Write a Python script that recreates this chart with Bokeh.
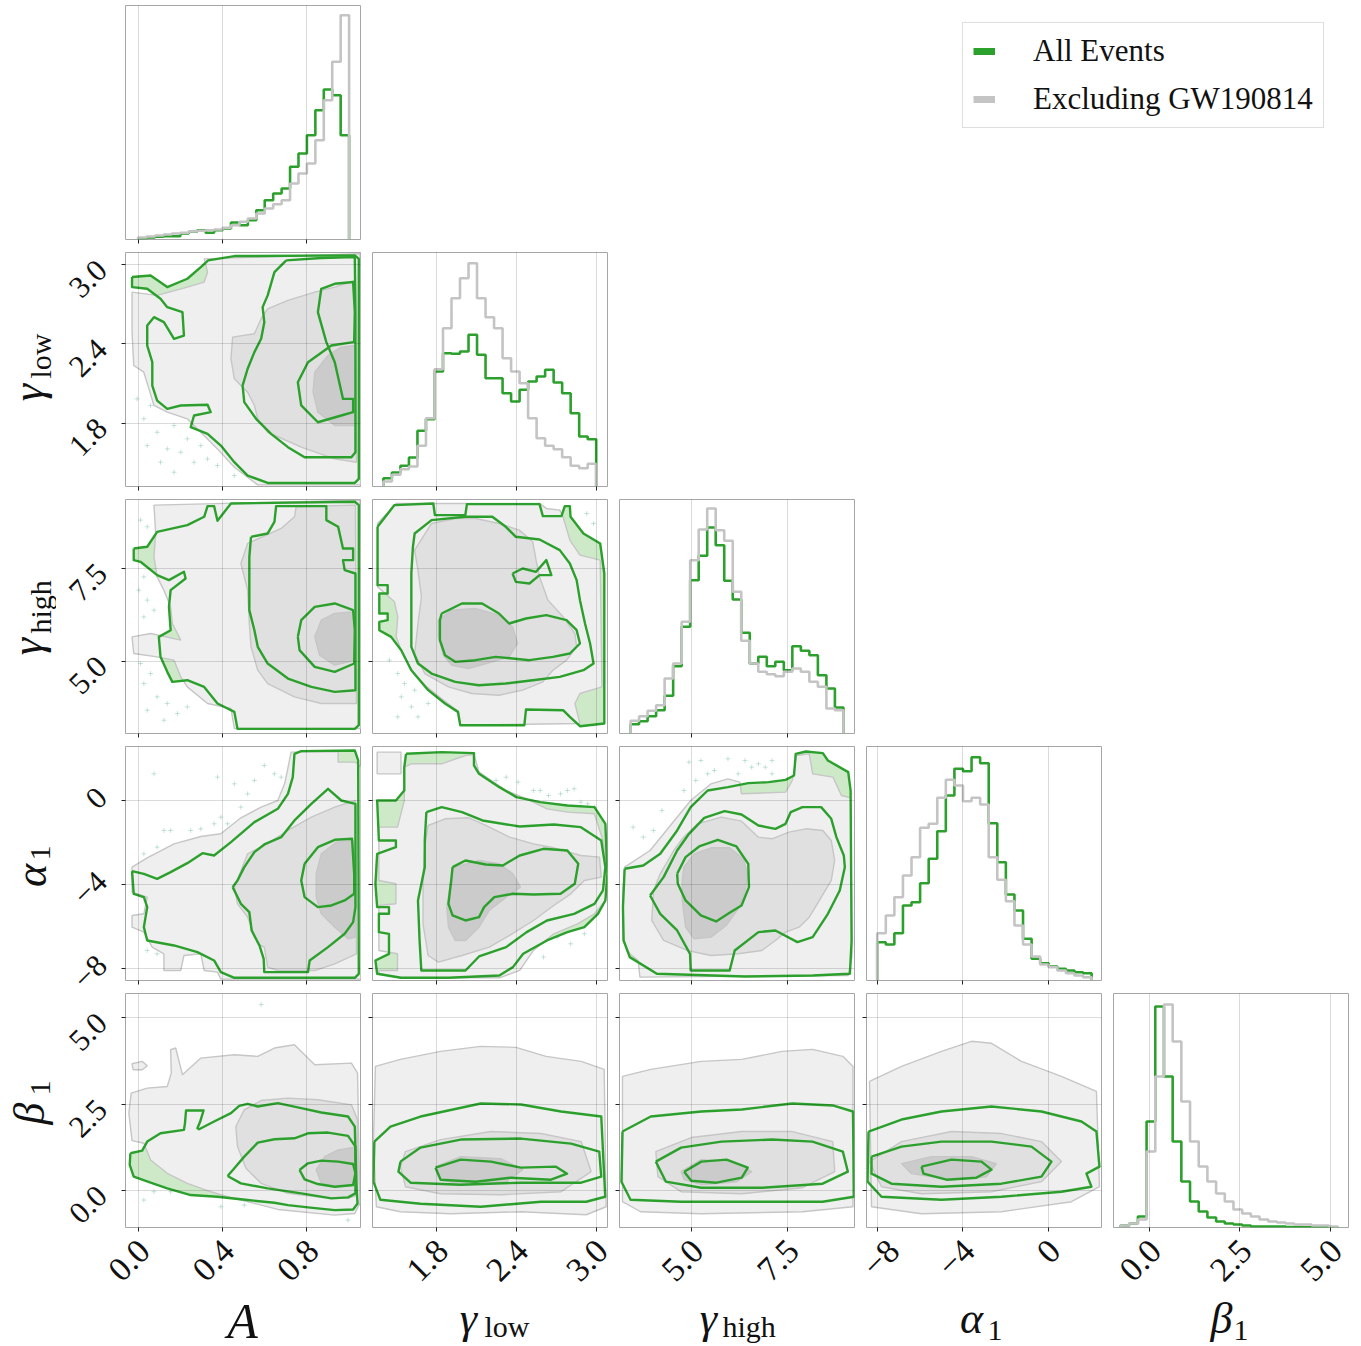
import numpy as np
from math import pi
from bokeh.plotting import figure
from bokeh.models import Range1d, FixedTicker, Legend, LegendItem, Spacer, LinearAxis
from bokeh.core.properties import value
from bokeh.layouts import row, column
from bokeh.embed import file_html
from bokeh.resources import INLINE

# ---------------------------------------------------------------- data
PARAMS = ["A", "glow", "ghigh", "alpha1", "beta1"]

X_RANGE = {"A": (-0.060, 1.054), "glow": (1.318, 3.085), "ghigh": (3.11, 9.26),
           "alpha1": (-8.50, 2.46), "beta1": (-0.994, 5.497)}
Y_RANGE = {"glow": (1.320, 3.093), "ghigh": (3.05, 9.36),
           "alpha1": (-8.59, 2.576), "beta1": (-1.065, 5.708)}
TICKS = {"A": [0.0, 0.4, 0.8], "glow": [1.8, 2.4, 3.0], "ghigh": [5.0, 7.5],
         "alpha1": [-8, -4, 0], "beta1": [0.0, 2.5, 5.0]}
TICK_TEXT = {"A": ["0.0", "0.4", "0.8"], "glow": ["1.8", "2.4", "3.0"], "ghigh": ["5.0", "7.5"],
             "alpha1": ["−8", "−4", "0"], "beta1": ["0.0", "2.5", "5.0"]}

# 1-D marginal histograms (25 bins between the limits, relative density)
HIST_LIMITS = {"A": (0.0, 1.0), "glow": (1.4, 3.0), "ghigh": (3.4, 8.97),
               "alpha1": (-8.0, 2.0), "beta1": (-0.8, 5.2)}
hist_A_all = [1.0, 2.0, 2.7, 3.3, 3.3, 6.0, 7.7, 9.3, 6.7, 9.3, 11.0, 17.0, 14.3, 19.3, 29.3,
              39.3, 46.0, 51.0, 72.7, 86.0, 104.3, 129.3, 150.0, 144.3, 104.3]
hist_A_ex = [2.0, 3.0, 4.0, 5.0, 6.0, 6.7, 8.0, 8.7, 9.3, 10.0, 11.7, 14.3, 17.7, 21.0, 26.0,
             31.0, 35.3, 39.3, 56.0, 66.0, 76.0, 99.3, 139.3, 177.7, 224.3]
hist_glow_all = [8.3, 14.0, 20.7, 29.0, 55.7, 67.3, 115.0, 133.3, 132.7, 135.0, 151.7, 131.7, 108.3,
                 108.3, 93.3, 85.0, 96.7, 105.0, 110.0, 116.7, 104.0, 93.3, 73.3, 50.0, 47.3]
hist_glow_ex = [5.0, 11.7, 17.3, 20.0, 40.7, 68.3, 117.3, 158.3, 188.3, 208.3, 223.3, 188.3, 169.3,
                158.3, 128.3, 115.0, 103.3, 68.3, 48.3, 40.7, 37.3, 29.3, 20.7, 18.3, 22.7]
hist_ghigh_all = [9.3, 12.3, 17.3, 23.3, 37.7, 67.3, 106.7, 153.3, 177.7, 206.0, 188.3, 152.7, 134.0,
                  100.7, 70.0, 76.7, 67.3, 71.7, 63.3, 87.3, 82.7, 78.3, 58.3, 45.0, 26.0]
hist_ghigh_ex = [12.7, 17.3, 22.7, 28.3, 55.0, 70.0, 111.7, 173.3, 204.0, 225.0, 203.3, 192.7, 141.7,
                 92.7, 70.0, 61.7, 59.3, 57.3, 61.7, 65.0, 61.7, 51.7, 46.7, 25.0, 23.3]
hist_alpha_all = [38.3, 36.0, 47.3, 75.0, 78.3, 97.3, 121.7, 149.3, 185.0, 211.7, 209.3, 223.3, 217.3,
                  157.3, 118.3, 86.0, 70.0, 41.7, 21.7, 17.3, 14.0, 11.7, 10.0, 8.3, 7.3]
hist_alpha_ex = [47.3, 65.0, 83.3, 105.0, 123.3, 152.7, 156.7, 182.7, 200.7, 195.0, 179.3, 182.7, 176.0,
                 123.3, 100.7, 79.3, 55.0, 36.0, 24.0, 16.0, 13.3, 10.0, 7.3, 5.0, 3.3]
hist_beta_all = [2, 4, 11, 106, 221, 151, 86, 46, 26, 16, 10, 6, 4, 3, 2, 1, 1, 1, 1,
                 0.5, 0.5, 0.3, 0.3, 0.2, 0.2]
hist_beta_ex = [2, 4, 8, 76, 151, 223, 186, 126, 86, 61, 46, 34, 26, 18, 14, 11, 8, 6, 5,
                4, 3, 3, 2, 2, 1]

# 2-D credible contours, outer / middle / inner, as (x, y) vertices in data units
# --- A vs gamma_low
A_glow_all_1 = [(-0.029,2.907),(0.059,2.919),(0.138,2.831),(0.233,2.894),(0.297,2.982),(0.332,3.033),(0.456,3.066),(1.027,3.071),(1.046,3.045),(1.046,1.378),(1.027,1.347),(0.614,1.347),(0.519,1.403),(0.456,1.504),(0.392,1.630),(0.329,1.719),(0.249,1.769),(0.265,1.858),(0.344,1.883),(0.329,1.939),(0.202,1.934),(0.138,1.908),(0.090,1.971),(0.067,2.085),(0.067,2.262),(0.043,2.388),(0.043,2.540),(0.075,2.603),(0.122,2.565),(0.170,2.439),(0.217,2.464),(0.210,2.641),(0.138,2.679),(0.106,2.742),(0.043,2.818),(-0.029,2.831)]
A_glow_all_2 = [(0.702,3.033),(0.868,3.051),(1.027,3.058),(1.030,2.641),(1.030,1.580),(1.011,1.542),(0.789,1.542),(0.710,1.618),(0.630,1.719),(0.559,1.833),(0.503,1.959),(0.495,2.085),(0.519,2.212),(0.551,2.338),(0.583,2.439),(0.598,2.565),(0.590,2.679),(0.614,2.768),(0.646,2.944)]
A_glow_all_3 = [(1.019,2.414),(0.916,2.388),(0.805,2.262),(0.757,2.110),(0.773,1.934),(0.852,1.807),(0.963,1.858),(1.019,1.883),(1.019,1.984),(0.971,1.984),(0.932,2.262),(0.892,2.414),(0.852,2.641),(0.868,2.818),(0.932,2.856),(1.019,2.869),(1.027,2.641),(1.024,2.414)]
A_glow_ex_1 = [(-0.029,2.793),(0.090,2.768),(0.233,2.831),(0.313,2.869),(0.329,2.944),(0.313,3.045),(1.051,3.083),(1.056,1.332),(0.567,1.332),(0.456,1.466),(0.376,1.605),(0.297,1.731),(0.233,1.833),(0.138,1.883),(0.075,1.934),(0.051,2.060),(0.027,2.186),(-0.021,2.237),(-0.029,2.490)]
A_glow_ex_2 = [(0.448,2.452),(0.551,2.477),(0.583,2.591),(0.614,2.666),(0.710,2.730),(0.837,2.793),(0.932,2.831),(1.030,2.881),(1.035,1.504),(0.932,1.529),(0.773,1.618),(0.614,1.731),(0.567,1.833),(0.551,1.934),(0.519,2.035),(0.456,2.136),(0.440,2.287)]
A_glow_ex_3 = [(0.837,2.186),(0.900,2.313),(0.963,2.376),(1.030,2.388),(1.035,1.782),(0.932,1.782),(0.852,1.883),(0.829,2.035)]
A_glow_pts = [(0.027,1.833),(0.090,1.731),(0.043,1.630),(0.138,1.605),(0.170,1.782),(0.233,1.681),(0.297,1.630),(0.106,1.504),(0.329,1.529),(0.376,1.479),(0.456,1.403),(0.059,1.934),(0.202,1.580),(0.265,1.504),(0.170,1.428),(-0.005,1.984)]
# --- A vs gamma_high
A_ghigh_all_1 = [(-0.021,8.040),(0.043,8.085),(0.090,8.489),(0.233,8.669),(0.313,8.894),(0.329,9.182),(0.360,9.182),(0.376,8.786),(0.440,9.254),(1.027,9.299),(1.046,9.209),(1.046,3.273),(1.027,3.174),(0.471,3.174),(0.456,3.633),(0.376,3.858),(0.313,4.307),(0.233,4.487),(0.162,4.442),(0.138,4.712),(0.106,5.117),(0.098,5.656),(0.154,5.836),(0.146,6.466),(0.154,6.915),(0.225,7.230),(0.217,7.410),(0.146,7.185),(0.090,7.320),(0.011,7.680),(-0.021,7.725)]
A_ghigh_all_2 = [(0.535,8.354),(0.614,8.444),(0.646,8.759),(0.654,9.182),(0.892,9.182),(0.892,8.804),(0.948,8.624),(0.971,8.040),(1.019,8.040),(1.019,7.725),(0.971,7.725),(0.979,7.455),(1.030,7.365),(1.030,4.218),(0.932,4.173),(0.821,4.307),(0.710,4.532),(0.614,4.937),(0.567,5.387),(0.551,5.836),(0.527,6.376),(0.527,7.815)]
A_ghigh_all_3 = [(0.757,5.656),(0.773,6.106),(0.837,6.466),(0.932,6.556),(1.019,6.376),(1.027,5.836),(1.024,4.937),(0.932,4.712),(0.837,4.847),(0.765,5.297)]
A_ghigh_ex_1 = [(0.075,9.209),(1.051,9.344),(1.056,3.183),(0.456,3.183),(0.440,3.723),(0.329,3.858),(0.233,4.307),(0.202,4.577),(0.170,5.027),(0.090,5.117),(-0.021,5.207),(-0.029,5.656),(0.059,5.746),(0.202,5.567),(0.162,6.016),(0.154,6.466),(0.122,6.915),(0.090,7.275),(0.075,7.815),(0.083,8.444)]
A_ghigh_ex_2 = [(0.519,8.174),(0.678,8.579),(0.741,8.894),(0.749,9.164),(1.030,9.209),(1.035,3.858),(0.868,3.858),(0.741,4.038),(0.614,4.397),(0.567,4.757),(0.535,5.387),(0.527,6.016),(0.519,6.915),(0.487,7.635)]
A_ghigh_ex_3 = [(0.837,5.656),(0.868,6.106),(0.932,6.286),(1.019,6.331),(1.030,5.836),(1.030,5.027),(0.932,4.892),(0.860,5.162)]
A_ghigh_pts = [(0.011,8.804),(0.043,8.624),(0.027,7.275),(0.003,6.915),(0.043,6.646),(0.075,6.376),(0.027,6.196),(0.011,4.937),(0.059,4.667),(0.027,4.397),(0.090,4.038),(0.138,3.858),(0.043,3.678),(0.122,3.408),(0.186,3.588),(0.233,3.768)]
# --- gamma_low vs gamma_high
glow_ghigh_all_1 = [(1.356,8.624),(1.483,9.209),(1.775,9.254),(1.787,8.939),(2.016,8.939),(2.028,9.236),(2.574,9.236),(2.599,8.912),(2.739,8.912),(2.764,9.182),(2.802,9.182),(2.807,8.894),(2.904,8.444),(3.030,8.174),(3.061,7.365),(3.061,3.318),(2.878,3.246),(2.802,3.498),(2.751,3.678),(2.472,3.696),(2.460,3.273),(1.978,3.273),(1.960,3.633),(1.863,3.858),(1.737,4.218),(1.610,4.757),(1.534,5.297),(1.458,5.656),(1.369,5.836),(1.369,6.061),(1.432,6.106),(1.432,6.286),(1.369,6.286),(1.369,6.826),(1.432,6.826),(1.432,7.050),(1.356,7.050)]
glow_ghigh_all_2 = [(1.622,8.085),(1.635,8.444),(1.762,8.804),(2.016,8.894),(2.219,8.894),(2.320,8.624),(2.396,8.354),(2.574,8.282),(2.726,7.995),(2.802,7.635),(2.853,7.185),(2.878,6.646),(2.916,6.016),(2.954,5.477),(2.980,4.937),(2.904,4.757),(2.726,4.577),(2.523,4.487),(2.320,4.397),(2.117,4.352),(1.940,4.442),(1.762,4.667),(1.660,4.937),(1.610,5.387),(1.610,6.196),(1.610,7.365)]
glow_ghigh_all_2b = [(2.371,7.365),(2.447,7.500),(2.548,7.410),(2.625,7.725),(2.663,7.320),(2.574,7.320),(2.498,7.095),(2.396,7.140)]
glow_ghigh_all_3 = [(1.838,6.286),(1.990,6.556),(2.142,6.556),(2.269,6.286),(2.345,6.016),(2.472,6.151),(2.625,6.241),(2.777,6.106),(2.853,5.836),(2.878,5.477),(2.802,5.207),(2.675,5.117),(2.498,5.027),(2.371,5.072),(2.244,5.117),(2.092,5.027),(1.940,4.982),(1.863,5.162),(1.825,5.567),(1.825,6.106)]
glow_ghigh_ex_1 = [(1.356,8.714),(1.496,9.254),(2.574,9.254),(2.625,9.119),(2.726,9.074),(2.751,8.894),(2.802,8.264),(2.878,7.860),(3.030,7.725),(3.043,4.307),(2.878,4.128),(2.840,3.858),(2.878,3.318),(1.980,3.273),(1.967,3.633),(1.853,3.948),(1.726,4.307),(1.610,4.757),(1.534,5.297),(1.496,5.656),(1.508,6.196),(1.483,6.601),(1.356,7.005)]
glow_ghigh_ex_2 = [(1.635,7.995),(1.762,8.714),(1.940,8.849),(2.092,8.849),(2.269,8.714),(2.422,8.534),(2.523,8.219),(2.548,7.725),(2.574,7.275),(2.637,6.646),(2.751,6.196),(2.840,5.746),(2.853,5.387),(2.777,5.027),(2.675,4.757),(2.599,4.442),(2.447,4.218),(2.269,4.083),(2.066,4.128),(1.889,4.307),(1.711,4.667),(1.635,5.207),(1.660,6.016),(1.686,6.736),(1.660,7.455)]
glow_ghigh_ex_3 = [(1.813,6.106),(1.914,6.376),(2.092,6.421),(2.269,6.241),(2.371,5.926),(2.409,5.477),(2.345,5.117),(2.219,4.982),(2.041,4.802),(1.914,4.892),(1.851,5.162),(1.813,5.656)]
glow_ghigh_pts = [(1.445,5.027),(1.508,4.667),(1.559,4.397),(1.635,4.218),(1.686,4.577),(1.534,4.038),(1.610,3.768),(1.508,3.498),(1.737,3.858),(1.660,3.498),(2.929,8.984),(2.980,8.714),(2.954,3.678),(3.005,3.408)]
# --- A vs alpha_1
A_alpha_all_1 = [(-0.029,-3.372),(0.027,-3.499),(0.090,-3.738),(0.154,-3.419),(0.233,-2.990),(0.305,-2.513),(0.360,-2.624),(0.440,-1.988),(0.551,-1.034),(0.662,-0.398),(0.710,0.318),(0.733,1.113),(0.741,2.227),(0.773,2.354),(1.027,2.386),(1.043,1.909),(1.046,-8.270),(1.027,-8.461),(0.456,-8.461),(0.392,-8.191),(0.360,-7.634),(0.281,-7.237),(0.170,-6.918),(0.043,-6.680),(0.027,-6.044),(0.043,-5.089),(0.027,-4.612),(-0.021,-4.453)]
A_alpha_all_2 = [(0.448,-4.135),(0.487,-4.930),(0.527,-5.328),(0.538,-6.203),(0.575,-6.918),(0.595,-7.555),(0.598,-8.191),(0.805,-8.191),(0.813,-7.634),(0.900,-6.998),(0.979,-6.362),(1.019,-5.805),(1.030,-5.089),(1.030,-0.159),(0.963,0.000),(0.900,0.557),(0.821,-0.159),(0.741,-0.954),(0.678,-1.750),(0.598,-2.099),(0.551,-2.465),(0.503,-3.181),(0.471,-3.817)]
A_alpha_all_3 = [(0.789,-3.022),(0.852,-2.227),(0.932,-1.877),(1.014,-1.829),(1.024,-3.499),(1.024,-4.453),(0.979,-4.771),(0.916,-5.010),(0.852,-5.089),(0.789,-4.612),(0.773,-3.817)]
A_alpha_ex_1 = [(-0.029,-3.181),(0.043,-2.736),(0.170,-2.068),(0.297,-1.718),(0.392,-1.590),(0.487,-0.827),(0.583,-0.318),(0.662,0.000),(0.694,0.795),(0.706,1.352),(0.725,2.306),(0.948,2.338),(0.948,1.829),(1.030,1.829),(1.056,1.590),(1.056,-8.525),(0.392,-8.525),(0.376,-8.191),(0.313,-8.111),(0.297,-7.316),(0.217,-7.396),(0.202,-8.111),(0.122,-8.111),(0.122,-7.316),(0.067,-6.998),(0.027,-6.282),(-0.029,-6.044),(-0.029,-5.487),(0.027,-5.408),(0.043,-4.612),(-0.029,-4.374)]
A_alpha_ex_2 = [(0.456,-4.135),(0.519,-2.545),(0.598,-2.147),(0.710,-1.431),(0.821,-0.795),(0.932,-0.318),(1.030,0.000),(1.035,-7.316),(0.932,-7.793),(0.837,-8.111),(0.662,-8.111),(0.614,-7.952),(0.598,-6.998),(0.567,-6.839),(0.519,-5.567),(0.471,-4.930)]
A_alpha_ex_3 = [(0.868,-2.545),(0.940,-1.988),(1.019,-1.909),(1.030,-3.499),(1.030,-6.521),(0.995,-6.600),(0.932,-6.044),(0.868,-5.408),(0.844,-4.612),(0.844,-3.499)]
A_alpha_pts = [(0.075,1.272),(0.122,-1.431),(0.154,-1.431),(0.249,-1.431),(0.297,-1.352),(0.360,-1.113),(0.392,-0.795),(0.424,-1.113),(0.487,-0.318),(0.519,0.318),(0.551,0.954),(0.598,1.670),(0.646,1.272),(0.678,1.113),(0.456,0.795),(0.376,1.113),(0.027,-2.545),(0.090,-2.227),(0.059,-2.704),(0.043,-7.157),(0.090,-7.316)]
# --- gamma_low vs alpha_1
glow_alpha_all_1 = [(1.570,2.227),(1.838,2.306),(2.081,2.258),(2.081,1.670),(2.119,1.272),(2.272,0.636),(2.400,0.159),(2.579,-0.080),(2.783,-0.239),(2.987,-0.318),(3.069,-1.113),(3.084,-3.499),(3.069,-4.771),(3.013,-5.408),(2.911,-6.044),(2.783,-6.282),(2.630,-6.680),(2.451,-7.316),(2.374,-7.952),(2.272,-8.350),(1.889,-8.461),(1.532,-8.461),(1.353,-8.270),(1.340,-7.634),(1.442,-7.316),(1.442,-6.362),(1.366,-6.282),(1.366,-5.408),(1.442,-5.408),(1.442,-5.089),(1.353,-5.089),(1.340,-3.976),(1.353,-2.545),(1.494,-2.227),(1.494,-1.909),(1.366,-1.909),(1.353,0.000),(1.494,0.000),(1.557,0.477),(1.557,1.590)]
glow_alpha_all_2 = [(1.723,-0.557),(1.838,-0.318),(1.991,-0.557),(2.145,-0.954),(2.425,-1.241),(2.681,-1.145),(2.885,-1.272),(3.038,-1.909),(3.069,-3.181),(3.051,-4.294),(2.987,-4.930),(2.834,-5.408),(2.630,-5.726),(2.477,-6.282),(2.323,-6.998),(2.119,-7.443),(2.017,-8.111),(1.685,-8.111),(1.672,-6.680),(1.660,-4.771),(1.711,-3.181),(1.711,-1.909)]
glow_alpha_all_3 = [(1.920,-3.181),(2.017,-2.863),(2.170,-3.054),(2.298,-3.101),(2.425,-2.624),(2.604,-2.306),(2.783,-2.386),(2.865,-3.022),(2.839,-3.976),(2.732,-4.453),(2.528,-4.485),(2.374,-4.453),(2.234,-4.612),(2.157,-5.089),(2.119,-5.567),(2.017,-5.726),(1.920,-5.487),(1.889,-4.930),(1.910,-3.817)]
glow_alpha_ex_1 = [(1.557,1.590),(1.609,1.750),(1.838,1.750),(2.017,2.147),(2.081,2.195),(2.119,1.352),(2.323,0.477),(2.477,0.080),(2.630,-0.398),(2.783,-0.557),(2.987,-0.636),(3.051,-1.909),(3.089,-3.499),(3.069,-4.771),(2.987,-5.408),(2.860,-5.885),(2.681,-6.362),(2.528,-7.157),(2.425,-8.111),(2.272,-8.461),(1.532,-8.461),(1.366,-8.270),(1.366,-8.111),(1.506,-8.111),(1.506,-7.316),(1.366,-7.157),(1.366,-5.010),(1.494,-4.930),(1.494,-3.976),(1.366,-3.817),(1.366,-1.272),(1.506,-1.272),(1.557,0.000)]
glow_alpha_ex_1b = [(1.353,2.306),(1.532,2.306),(1.532,1.272),(1.353,1.272)]
glow_alpha_ex_2 = [(1.736,-1.193),(1.864,-0.875),(2.043,-0.827),(2.170,-1.193),(2.349,-1.750),(2.528,-2.068),(2.681,-2.258),(2.885,-2.624),(3.025,-2.704),(3.038,-3.658),(2.911,-3.817),(2.809,-4.453),(2.681,-5.010),(2.528,-5.726),(2.349,-6.441),(2.196,-6.998),(1.991,-7.396),(1.813,-7.714),(1.736,-7.396),(1.698,-5.885),(1.698,-3.817),(1.711,-2.227)]
glow_alpha_ex_3 = [(1.928,-3.181),(2.119,-2.863),(2.272,-3.022),(2.374,-3.499),(2.431,-4.135),(2.323,-4.612),(2.196,-5.249),(2.119,-6.044),(2.017,-6.680),(1.940,-6.680),(1.889,-6.044),(1.877,-5.089),(1.902,-3.976)]
glow_alpha_pts = [(1.506,1.670),(1.557,1.352),(2.094,1.431),(2.170,0.954),(2.247,0.954),(2.323,1.113),(2.413,0.875),(2.528,0.477),(2.579,0.477),(2.642,0.239),(2.732,0.318),(2.783,0.477),(2.834,0.557),(2.885,-0.080),(2.936,-0.159),(2.987,-0.318),(2.706,-6.521),(2.808,-6.839),(2.911,-6.362),(2.604,-7.475)]
# --- gamma_high vs alpha_1
ghigh_alpha_all_1 = [(3.245,-3.260),(3.732,-3.101),(4.176,-2.545),(4.619,-1.431),(4.973,-0.318),(5.417,0.477),(5.949,0.636),(6.480,0.827),(7.012,0.875),(7.456,0.986),(7.677,1.193),(7.722,2.227),(7.988,2.338),(8.431,2.258),(8.564,1.909),(9.096,1.352),(9.158,0.477),(9.184,-6.680),(9.140,-8.270),(8.165,-8.350),(6.392,-8.398),(4.087,-8.270),(3.378,-7.475),(3.218,-6.680),(3.200,-5.089)]
ghigh_alpha_all_2 = [(3.910,-4.533),(4.264,-3.658),(4.619,-2.386),(4.929,-1.590),(5.328,-0.827),(5.860,-0.509),(6.303,-0.668),(6.746,-1.193),(7.190,-1.352),(7.456,-1.113),(7.589,-0.557),(7.899,-0.318),(8.387,-0.318),(8.652,-0.875),(8.786,-1.750),(8.980,-2.624),(9.007,-3.181),(8.874,-4.294),(8.564,-5.408),(8.165,-6.521),(7.766,-6.759),(7.190,-6.203),(6.746,-6.282),(6.126,-7.157),(5.993,-8.111),(4.973,-8.111),(4.956,-7.316),(4.619,-6.203),(4.176,-5.408)]
ghigh_alpha_all_3 = [(4.619,-3.499),(4.840,-2.704),(5.195,-2.195),(5.683,-1.877),(6.170,-2.195),(6.480,-3.022),(6.498,-4.135),(6.303,-5.010),(5.949,-5.408),(5.638,-5.773),(5.239,-5.487),(4.840,-4.771),(4.636,-3.976)]
ghigh_alpha_ex_1 = [(3.245,-3.181),(3.910,-2.386),(4.441,-1.193),(4.973,0.000),(5.505,0.795),(5.949,1.034),(6.259,0.875),(6.303,0.318),(7.456,0.398),(7.633,0.954),(7.739,2.147),(8.076,2.227),(8.165,1.272),(8.697,1.113),(8.918,0.239),(9.158,0.127),(9.193,-7.475),(9.096,-8.350),(3.644,-8.429),(3.599,-7.634),(3.378,-7.316),(3.200,-6.680),(3.200,-4.294)]
ghigh_alpha_ex_2 = [(4.002,-4.294),(4.176,-3.499),(4.530,-2.386),(4.752,-1.829),(5.151,-1.113),(5.771,-0.795),(6.303,-0.986),(6.746,-1.750),(7.101,-1.829),(7.544,-1.511),(7.988,-1.352),(8.431,-1.431),(8.652,-1.909),(8.741,-2.863),(8.652,-3.817),(8.342,-4.771),(8.076,-5.567),(7.810,-6.044),(7.456,-6.282),(7.190,-6.680),(6.835,-7.157),(6.215,-7.316),(5.505,-7.396),(4.885,-7.157),(4.264,-6.680),(3.954,-5.726)]
ghigh_alpha_ex_3 = [(4.796,-3.181),(5.062,-2.545),(5.505,-2.258),(5.993,-2.258),(6.348,-2.783),(6.463,-3.499),(6.392,-4.374),(6.215,-5.169),(5.904,-5.964),(5.505,-6.521),(5.062,-6.600),(4.840,-6.044),(4.752,-4.771),(4.752,-3.817)]
ghigh_alpha_pts = [(3.466,-1.272),(3.732,-1.750),(3.998,-1.431),(4.220,-0.477),(4.796,0.477),(4.929,1.829),(5.106,0.954),(5.239,1.909),(5.417,1.272),(5.594,1.431),(5.949,1.988),(6.215,1.272),(6.392,1.909),(6.569,1.590),(6.746,1.750),(6.924,1.590),(7.101,1.909),(7.101,1.272)]
# --- A vs beta_1
A_beta_all_1 = [(-0.037,1.083),(0.019,1.161),(0.043,1.422),(0.106,1.663),(0.217,1.760),(0.222,1.954),(0.227,2.321),(0.310,2.321),(0.294,2.002),(0.281,1.809),(0.289,1.779),(0.360,2.002),(0.440,2.244),(0.479,2.456),(0.519,2.515),(0.567,2.437),(0.662,2.534),(0.773,2.389),(0.868,2.263),(0.995,2.147),(1.027,1.857),(1.035,0.116),(1.040,-0.368),(1.019,-0.542),(0.932,-0.561),(0.805,-0.484),(0.710,-0.416),(0.646,-0.348),(0.519,-0.271),(0.376,-0.174),(0.249,-0.126),(0.138,0.068),(0.059,0.232),(-0.021,0.406),(-0.040,0.745)]
A_beta_all_2 = [(0.424,0.426),(0.456,0.648),(0.503,0.986),(0.567,1.393),(0.646,1.489),(0.741,1.518),(0.805,1.663),(0.900,1.683),(0.995,1.586),(1.030,1.277),(1.030,-0.077),(0.995,-0.193),(0.916,-0.222),(0.773,-0.077),(0.614,0.068),(0.487,0.213)]
A_beta_all_3 = [(0.765,0.600),(0.805,0.793),(0.868,0.870),(0.948,0.841),(1.019,0.774),(1.030,0.503),(1.019,0.164),(0.932,0.116),(0.852,0.193),(0.789,0.329)]
A_beta_ex_1 = [(-0.033,2.824),(0.043,2.969),(0.138,3.017),(0.157,3.404),(0.154,4.081),(0.178,4.130),(0.210,3.356),(0.297,3.839),(0.456,3.936),(0.567,3.888),(0.646,4.130),(0.741,4.226),(0.837,3.646),(1.011,3.694),(1.040,3.404),(1.051,-0.368),(1.027,-0.658),(0.932,-0.706),(0.662,-0.542),(0.551,-0.368),(0.424,-0.174),(0.329,0.000),(0.233,0.213),(0.138,0.503),(0.059,0.890),(0.027,1.373),(-0.029,1.451),(-0.044,2.244)]
A_beta_ex_1b = [(-0.029,3.675),(0.019,3.743),(0.043,3.617),(0.019,3.501),(-0.024,3.501)]
A_beta_ex_2 = [(0.463,1.857),(0.503,2.340),(0.583,2.611),(0.710,2.679),(0.852,2.631),(1.011,2.485),(1.040,2.050),(1.040,-0.126),(0.995,-0.222),(0.868,-0.193),(0.710,-0.077),(0.583,0.213),(0.511,0.648),(0.471,1.277)]
A_beta_ex_3 = [(0.844,0.600),(0.884,0.986),(0.948,1.180),(1.027,1.257),(1.043,1.083),(1.040,0.164),(0.932,0.116),(0.868,0.232)]
A_beta_pts = [(0.027,-0.271),(0.075,-0.029),(0.154,-0.029),(0.392,-0.464),(0.503,-0.416),(0.995,-0.851),(0.583,5.387)]
# --- gamma_low vs beta_1
glow_beta_all_1 = [(1.332,1.422),(1.453,1.857),(1.679,2.147),(2.132,2.525),(2.434,2.496),(2.736,2.293),(3.038,2.147),(3.068,-0.174),(2.925,-0.319),(2.585,-0.319),(2.132,-0.464),(1.679,-0.377),(1.377,-0.261),(1.325,0.261)]
glow_beta_all_2 = [(1.528,0.842),(1.679,1.248),(1.981,1.480),(2.434,1.509),(2.811,1.364),(3.023,1.132),(3.038,0.406),(2.887,0.232),(2.434,0.232),(1.981,0.174),(1.604,0.232),(1.513,0.551)]
glow_beta_all_3 = [(1.792,0.667),(1.981,0.900),(2.208,0.842),(2.434,0.667),(2.698,0.696),(2.781,0.493),(2.660,0.319),(2.358,0.377),(2.094,0.261),(1.830,0.319)]
glow_beta_ex_1 = [(1.340,3.598),(1.528,3.801),(1.830,4.034),(2.132,4.179),(2.396,4.150),(2.623,3.889),(2.887,3.743),(3.060,3.511),(3.075,-0.464),(2.925,-0.696),(2.434,-0.609),(1.906,-0.667),(1.528,-0.609),(1.347,-0.464),(1.325,1.422)]
glow_beta_ex_2 = [(1.566,1.132),(1.830,1.480),(2.208,1.712),(2.585,1.654),(2.887,1.422),(2.962,0.551),(2.736,-0.029),(2.283,-0.116),(1.830,-0.087),(1.566,0.116),(1.528,0.696)]
glow_beta_ex_3 = [(1.792,0.696),(1.981,0.987),(2.283,0.929),(2.449,0.609),(2.321,0.261),(1.981,0.174),(1.830,0.319)]
# --- gamma_high vs beta_1
ghigh_beta_all_1 = [(3.188,1.712),(3.929,2.147),(5.251,2.293),(6.310,2.351),(7.632,2.525),(8.690,2.467),(9.220,2.293),(9.246,-0.174),(8.426,-0.319),(6.310,-0.319),(4.722,-0.319),(3.399,-0.261),(3.161,0.261)]
ghigh_beta_all_2 = [(4.061,0.842),(4.722,1.248),(5.780,1.422),(7.103,1.480),(8.161,1.422),(8.955,1.132),(9.087,0.551),(8.426,0.203),(6.839,0.087),(5.251,0.087),(4.325,0.261)]
ghigh_beta_all_3 = [(4.802,0.551),(5.251,0.842),(5.913,0.900),(6.468,0.667),(6.310,0.377),(5.648,0.232),(4.987,0.290)]
ghigh_beta_ex_1 = [(3.188,3.308),(3.929,3.511),(5.251,3.743),(6.310,3.801),(7.368,4.034),(8.161,4.092),(8.955,3.889),(9.220,3.598),(9.220,-0.464),(7.897,-0.609),(5.251,-0.667),(3.664,-0.609),(3.188,-0.319)]
ghigh_beta_ex_2 = [(4.061,1.132),(4.987,1.538),(6.310,1.712),(7.632,1.712),(8.690,1.422),(8.743,0.551),(7.897,0.087),(6.310,-0.087),(4.722,-0.029),(4.114,0.406)]
ghigh_beta_ex_3 = [(4.722,0.551),(5.251,0.900),(6.045,0.842),(6.574,0.551),(6.177,0.261),(5.251,0.174),(4.802,0.319)]
# --- alpha_1 vs beta_1
alpha_beta_all_1 = [(-8.406,1.712),(-6.867,2.060),(-5.002,2.293),(-2.671,2.438),(-0.340,2.293),(1.525,2.002),(2.224,1.712),(2.364,0.696),(1.758,0.493),(1.991,0.116),(0.592,-0.029),(-2.205,-0.174),(-5.002,-0.261),(-7.799,-0.174),(-8.452,0.261)]
alpha_beta_all_2 = [(-8.266,0.987),(-6.867,1.277),(-5.002,1.422),(-2.671,1.422),(-0.806,1.277),(0.126,0.842),(-0.340,0.406),(-2.205,0.203),(-5.002,0.116),(-7.333,0.203),(-8.266,0.493)]
alpha_beta_all_3 = [(-5.935,0.696),(-4.536,0.900),(-3.137,0.842),(-2.671,0.609),(-3.371,0.377),(-4.770,0.319),(-5.842,0.493)]
alpha_beta_ex_1 = [(-8.359,3.163),(-6.867,3.598),(-5.002,4.034),(-3.604,4.324),(-2.671,4.266),(-1.273,3.743),(0.592,3.308),(2.224,2.873),(2.364,0.116),(1.058,-0.319),(-2.205,-0.609),(-5.935,-0.667),(-8.266,-0.464)]
alpha_beta_ex_2 = [(-8.359,0.842),(-6.867,1.422),(-4.536,1.712),(-2.205,1.654),(-0.340,1.422),(0.592,0.842),(-0.340,0.261),(-2.671,-0.029),(-5.935,-0.087),(-7.799,0.116)]
alpha_beta_ex_3 = [(-6.867,0.784),(-5.468,0.987),(-3.604,0.987),(-2.438,0.784),(-2.904,0.406),(-4.536,0.319),(-6.401,0.493)]

# ---------------------------------------------------------------- assembly tables
HISTS = {"A": (hist_A_all, hist_A_ex), "glow": (hist_glow_all, hist_glow_ex),
         "ghigh": (hist_ghigh_all, hist_ghigh_ex), "alpha1": (hist_alpha_all, hist_alpha_ex),
         "beta1": (hist_beta_all, hist_beta_ex)}
PAIRS = {
    (1, 0): ([[A_glow_all_1], [A_glow_all_2], [A_glow_all_3]], [[A_glow_ex_1], [A_glow_ex_2], [A_glow_ex_3]], A_glow_pts),
    (2, 0): ([[A_ghigh_all_1], [A_ghigh_all_2], [A_ghigh_all_3]], [[A_ghigh_ex_1], [A_ghigh_ex_2], [A_ghigh_ex_3]], A_ghigh_pts),
    (2, 1): ([[glow_ghigh_all_1], [glow_ghigh_all_2, glow_ghigh_all_2b], [glow_ghigh_all_3]],
             [[glow_ghigh_ex_1], [glow_ghigh_ex_2], [glow_ghigh_ex_3]], glow_ghigh_pts),
    (3, 0): ([[A_alpha_all_1], [A_alpha_all_2], [A_alpha_all_3]], [[A_alpha_ex_1], [A_alpha_ex_2], [A_alpha_ex_3]], A_alpha_pts),
    (3, 1): ([[glow_alpha_all_1], [glow_alpha_all_2], [glow_alpha_all_3]],
             [[glow_alpha_ex_1, glow_alpha_ex_1b], [glow_alpha_ex_2], [glow_alpha_ex_3]], glow_alpha_pts),
    (3, 2): ([[ghigh_alpha_all_1], [ghigh_alpha_all_2], [ghigh_alpha_all_3]],
             [[ghigh_alpha_ex_1], [ghigh_alpha_ex_2], [ghigh_alpha_ex_3]], ghigh_alpha_pts),
    (4, 0): ([[A_beta_all_1], [A_beta_all_2], [A_beta_all_3]], [[A_beta_ex_1, A_beta_ex_1b], [A_beta_ex_2], [A_beta_ex_3]], A_beta_pts),
    (4, 1): ([[glow_beta_all_1], [glow_beta_all_2], [glow_beta_all_3]], [[glow_beta_ex_1], [glow_beta_ex_2], [glow_beta_ex_3]], []),
    (4, 2): ([[ghigh_beta_all_1], [ghigh_beta_all_2], [ghigh_beta_all_3]], [[ghigh_beta_ex_1], [ghigh_beta_ex_2], [ghigh_beta_ex_3]], []),
    (4, 3): ([[alpha_beta_all_1], [alpha_beta_all_2], [alpha_beta_all_3]], [[alpha_beta_ex_1], [alpha_beta_ex_2], [alpha_beta_ex_3]], []),
}

# ---------------------------------------------------------------- style / layout constants
GREEN = "#2ca02c"
POINT_COLOR = "#4aa88a"
LIGHT_GREEN = "#cde9c8"
GRAY_HIST = "#c4c4c4"
GRAY_LINE = "#c6c6c6"
GRAY_FILLS = ["#efefef", "#e0e0e0", "#cbcbcb"]
FONT = "Liberation Serif"
X_TICK_SIZE = "34px"
Y_TICK_SIZE = "31px"
FW, FH = 235, 234
LEFT_PAD = 56          # width of the strip holding the rotated y labels
BOTTOM_BORDER = 68     # bottom border of the last row (rotated x tick labels)
X_LABEL_SHIFT = 6      # px, rotated x tick labels sit a little right of the tick
Y_LABEL_SHIFT = {1: 0, 2: 0, 3: 8, 4: 0}
ROW_TOP = {0: 5, 1: 7, 2: 7, 3: 7, 4: 0}
ROW_BOTTOM = {0: 6, 1: 6, 2: 6, 3: 13, 4: BOTTOM_BORDER}

# axis-label pieces (centre positions): (x, y, text, size, italic, align)
BOTTOM_LABELS = [(242, 25.5, "A", "50px", True, "center"),
                 (468, 28, "γ", "44px", True, "center"), (484, 20, "low", "30px", False, "left"),
                 (708, 28, "γ", "44px", True, "center"), (722, 20, "high", "30px", False, "left"),
                 (971, 28, "α", "44px", True, "center"), (987, 16, "1", "30px", False, "left"),
                 (1221, 28, "β", "44px", True, "center"), (1233, 16, "1", "30px", False, "left")]
LEFT_LABELS = {1: [(28, 94, "γ", "44px", True, "center"), (40, 108, "low", "30px", False, "left")],
               2: [(27, 87, "γ", "44px", True, "center"), (40, 100, "high", "30px", False, "left")],
               3: [(31, 105, "α", "44px", True, "center"), (40, 120, "1", "30px", False, "left")],
               4: [(29, 114, "β", "44px", True, "center"), (40, 132, "1", "30px", False, "left")]}


def split(poly, close=False):
    xs = [pt[0] for pt in poly]
    ys = [pt[1] for pt in poly]
    if close:
        xs.append(xs[0]); ys.append(ys[0])
    return xs, ys


def step_outline(lo, hi, heights):
    edges = np.linspace(lo, hi, len(heights) + 1)
    xs, ys = [edges[0]], [0.0]
    for i, h in enumerate(heights):
        xs += [edges[i], edges[i + 1]]
        ys += [h, h]
    xs.append(edges[-1]); ys.append(0.0)
    return xs, ys


def base_axis_style(ax):
    ax.axis_line_color = None
    ax.major_tick_line_color = "#222222"
    ax.major_tick_out = 4
    ax.major_tick_in = 0
    ax.minor_tick_line_color = None
    ax.major_label_text_font = FONT
    ax.major_label_text_color = "#111111"
    ax.major_label_text_font_size = "1px"
    ax.major_label_standoff = 0


def label_axis(ticks, texts, range_name, standoff, size):
    return LinearAxis(x_range_name=range_name if range_name.startswith("x") else "default",
                      y_range_name=range_name if range_name.startswith("y") else "default",
                      ticker=FixedTicker(ticks=ticks),
                      major_label_overrides={t: s for t, s in zip(ticks, texts)},
                      major_tick_out=0, major_tick_in=0, axis_line_color=None,
                      minor_tick_line_color=None, major_tick_line_color=None,
                      major_label_orientation=pi / 4, major_label_standoff=standoff,
                      major_label_text_font=FONT, major_label_text_font_size=size,
                      major_label_text_color="#111111")


def make_panel(r, c):
    xp = PARAMS[c]
    is_hist = (r == c)
    yr = Range1d(0, FH) if is_hist else Range1d(*Y_RANGE[PARAMS[r]])
    p = figure(frame_width=FW, frame_height=FH,
               min_border_left=(125 if r == 0 else 125 - LEFT_PAD) if c == 0 else 6,
               min_border_right=6,
               min_border_top=ROW_TOP[r], min_border_bottom=ROW_BOTTOM[r],
               x_range=Range1d(*X_RANGE[xp]), y_range=yr,
               toolbar_location=None, output_backend="svg")
    p.outline_line_color = "#a6a6a6"
    p.outline_line_width = 1
    p.background_fill_color = "white"
    p.border_fill_color = "white"

    p.xaxis.ticker = FixedTicker(ticks=TICKS[xp])
    p.xgrid.ticker = FixedTicker(ticks=TICKS[xp])
    p.xaxis.major_label_overrides = {t: "" for t in TICKS[xp]}
    for ax in p.axis:
        base_axis_style(ax)
    if is_hist:
        p.yaxis.visible = False
        p.ygrid.visible = False
    else:
        yp = PARAMS[r]
        p.yaxis.ticker = FixedTicker(ticks=TICKS[yp])
        p.ygrid.ticker = FixedTicker(ticks=TICKS[yp])
        p.yaxis.major_label_overrides = {t: "" for t in TICKS[yp]}
        if c == 0:
            lo, hi = Y_RANGE[yp]
            d = Y_LABEL_SHIFT[r] * (hi - lo) / FH
            p.extra_y_ranges = {"ylbl": Range1d(lo - d, hi - d)}
            p.add_layout(label_axis(TICKS[yp], TICK_TEXT[yp], "ylbl", 20, Y_TICK_SIZE), "left")
    if r == 4:
        lo, hi = X_RANGE[xp]
        d = X_LABEL_SHIFT * (hi - lo) / FW
        p.extra_x_ranges = {"xlbl": Range1d(lo - d, hi - d)}
        p.add_layout(label_axis(TICKS[xp], TICK_TEXT[xp], "xlbl", 14, X_TICK_SIZE), "below")
    for g in (p.xgrid, p.ygrid):
        g.grid_line_color = "#000000"
        g.grid_line_alpha = 0.14
        g.grid_line_width = 1
        g.level = "guide"

    if is_hist:
        lo, hi = HIST_LIMITS[xp]
        h_all, h_ex = HISTS[xp]
        xs, ys = step_outline(lo, hi, h_all)
        p.line(xs, ys, line_color=GREEN, line_width=2.6)
        xs, ys = step_outline(lo, hi, h_ex)
        p.line(xs, ys, line_color=GRAY_HIST, line_width=2.6)
    else:
        all_lv, ex_lv, pts = PAIRS[(r, c)]
        if pts:
            p.scatter([q[0] for q in pts], [q[1] for q in pts], marker="cross", size=5,
                      line_color=POINT_COLOR, line_alpha=0.3, line_width=1)
        polys = [split(pl) for pl in all_lv[0]]
        p.patches([a for a, b in polys], [b for a, b in polys], fill_color=LIGHT_GREEN, line_color=None)
        for lv, col in zip(ex_lv, GRAY_FILLS):
            polys = [split(pl) for pl in lv]
            p.patches([a for a, b in polys], [b for a, b in polys], fill_color=col,
                      line_color=GRAY_LINE, line_width=1.4)
        for lv in all_lv:
            polys = [split(pl, close=True) for pl in lv]
            p.multi_line([a for a, b in polys], [b for a, b in polys], line_color=GREEN,
                         line_width=2.4, line_join="round")
    return p


def text_strip(width, height, items, angle, top, bottom):
    f = figure(frame_width=width, frame_height=height, min_border_left=0, min_border_right=0,
               min_border_top=top, min_border_bottom=bottom,
               x_range=Range1d(0, width), y_range=Range1d(0, height),
               x_axis_location=None, y_axis_location=None,
               toolbar_location=None, output_backend="svg")
    f.outline_line_color = None
    f.xgrid.visible = False
    f.ygrid.visible = False
    for (x, y, t, size, italic, align) in items:
        f.text(x=[x], y=[y], text=[t], angle=angle, text_font=value(FONT),
               text_font_size=value(size), text_font_style="italic" if italic else "normal",
               text_align=align, text_baseline="middle", text_color="#111111")
    return f


rows = []
for r in range(5):
    figs = [make_panel(r, c) for c in range(r + 1)]
    if r == 0:
        lf = figure(frame_width=400, frame_height=FH, min_border_left=0, min_border_right=0,
                    min_border_top=5, min_border_bottom=6, x_range=Range1d(0, 1), y_range=Range1d(0, 1),
                    x_axis_location=None, y_axis_location=None,
                    toolbar_location=None, output_backend="svg")
        lf.outline_line_color = None
        lf.xgrid.visible = False
        lf.ygrid.visible = False
        r1 = lf.line([-5, -4], [-5, -5], line_color=GREEN, line_width=7)
        r2 = lf.line([-5, -4], [-5, -5], line_color=GRAY_HIST, line_width=7)
        leg = Legend(items=[LegendItem(label="All Events", renderers=[r1]),
                            LegendItem(label="Excluding GW190814", renderers=[r2])],
                     location="top_left", margin=17, padding=10, spacing=12,
                     glyph_width=22, glyph_height=32, label_height=32, label_standoff=38,
                     label_text_font=FONT, label_text_font_size="31px", label_text_color="#111111",
                     border_line_color="#bdbdbd", border_line_width=1, background_fill_alpha=1)
        lf.add_layout(leg, "center")
        figs += [Spacer(width=945 - 366, height=10), lf]
    else:
        strip = text_strip(LEFT_PAD, FH, LEFT_LABELS[r], pi / 2, ROW_TOP[r], ROW_BOTTOM[r])
        figs = [strip] + figs
    rows.append(row(*figs))

bottom_strip = text_strip(1361, 51, BOTTOM_LABELS, 0.0, 0, 0)
rows.append(row(bottom_strip))

layout = column(*rows)
open("out.html", "w").write(file_html(layout, INLINE))
